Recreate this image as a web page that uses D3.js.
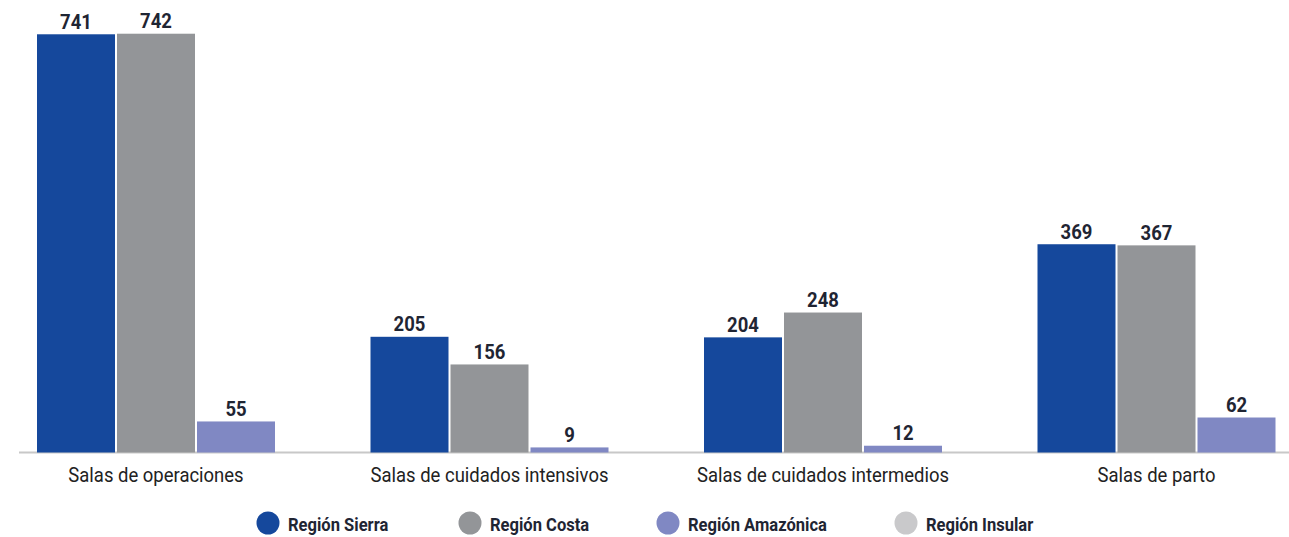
<!DOCTYPE html>
<html>
<head>
<meta charset="utf-8">
<script src="https://cdn.jsdelivr.net/npm/d3@7/dist/d3.min.js"></script>
<style>
  html, body { margin: 0; padding: 0; background: #fff; }
  svg { display: block; }
</style>
</head>
<body>
<svg id="chart" width="1289" height="537"></svg>
<script>
const categories = ["Salas de operaciones", "Salas de cuidados intensivos", "Salas de cuidados intermedios", "Salas de parto"];
const seriesNames = ["Región Sierra", "Región Costa", "Región Amazónica", "Región Insular"];
const sierra    = [741, 205, 204, 369];
const costa     = [742, 156, 248, 367];
const amazonica = [55, 9, 12, 62];
const insular   = [null, null, null, null];
const colors = ["#15489c", "#939598", "#8088c3", "#c9c9cb"];

const seriesValues = [sierra, costa, amazonica, insular];
const W = 1289, H = 537;
const svg = d3.select("#chart");

const baseY = 452.5;
const x0 = d3.scaleBand().domain(categories).range([-10.75, 1323.25]).padding(0);
const activeSeries = seriesNames.filter((s, i) => seriesValues[i].some(v => v != null));
const groupW = 240;
const x1 = d3.scaleBand().domain(activeSeries)
  .range([x0.bandwidth() / 2 - groupW / 2, x0.bandwidth() / 2 + groupW / 2])
  .paddingInner(0.025).paddingOuter(0.0125);
const y = d3.scaleLinear().domain([0, 800]).range([baseY, baseY - 800 * 0.5644]);

// axis line
const xAxis = d3.axisBottom(x0).tickSize(0).tickPadding(0).tickFormat("");
const axG = svg.append("g").attr("transform", `translate(0,${baseY})`).call(xAxis);
axG.select(".domain").remove();
svg.append("line").attr("x1", 19).attr("x2", W).attr("y1", baseY).attr("y2", baseY)
  .attr("stroke", "#c8c8c8").attr("stroke-width", 2);

// bars
const rows = [];
seriesNames.forEach((s, si) => {
  categories.forEach((c, ci) => {
    const v = seriesValues[si][ci];
    if (v != null) rows.push({ s, si, c, v });
  });
});

svg.append("g").selectAll("rect").data(rows).join("rect")
  .attr("x", d => x0(d.c) + x1(d.s))
  .attr("width", x1.bandwidth())
  .attr("y", d => y(d.v))
  .attr("height", d => baseY - y(d.v))
  .attr("fill", d => colors[d.si]);

// value labels
svg.append("g").selectAll("text").data(rows).join("text")
  .attr("transform", d => `translate(${x0(d.c) + x1(d.s) + x1.bandwidth() / 2},${y(d.v) - 5.5}) scale(0.88,1)`)
  .attr("text-anchor", "middle")
  .attr("font-family", "Roboto, 'Liberation Sans', sans-serif")
  .attr("font-weight", "bold")
  .attr("font-size", 21)
  .attr("fill", "#1f2533")
  .text(d => d.v);

// category labels
svg.append("g").selectAll("text").data(categories).join("text")
  .attr("transform", d => `translate(${x0(d) + x0.bandwidth() / 2},482) scale(0.88,1)`)
  .attr("text-anchor", "middle")
  .attr("font-family", "Roboto, 'Liberation Sans', sans-serif")
  .attr("font-size", 21)
  .attr("fill", "#222")
  .text(d => d);

// legend
const legendX = [268, 470, 668, 906];
const lg = svg.append("g").selectAll("g").data(seriesNames).join("g")
  .attr("transform", (d, i) => `translate(${legendX[i]},523)`);
lg.append("circle").attr("r", 11.5).attr("fill", (d, i) => colors[i]);
lg.append("text")
  .attr("transform", "translate(20,7.5) scale(0.92,1)")
  .attr("font-family", "Roboto, 'Liberation Sans', sans-serif")
  .attr("font-weight", "bold")
  .attr("font-size", 18)
  .attr("fill", "#1f2533")
  .text(d => d);
</script>
</body>
</html>
